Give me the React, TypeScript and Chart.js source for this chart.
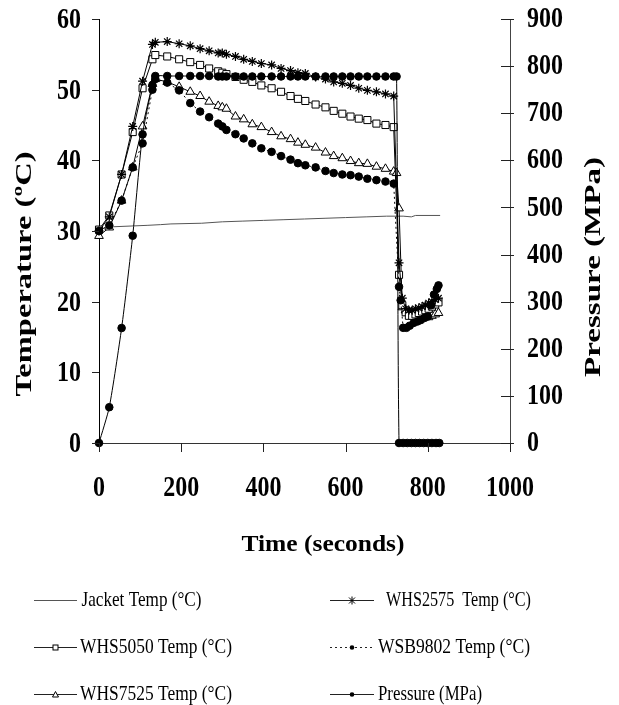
import React, { useEffect, useRef } from "react";
import { Chart, registerables } from "chart.js";

Chart.register(...registerables);

// ---------------- data ----------------
const TIME_MAIN = [0, 25, 55, 82, 106, 130, 137, 166, 195, 222, 246, 268, 290, 300, 310, 332, 352, 373, 395, 420, 443, 466, 484, 502, 527, 551, 571, 592, 612, 632, 653, 675, 697, 717];

const WHS2575_MAIN = [30.0, 32.0, 38.0, 44.8, 51.2, 56.4, 56.7, 56.8, 56.5, 56.2, 55.8, 55.5, 55.2, 55.2, 55.0, 54.7, 54.3, 54.0, 53.7, 53.5, 53.0, 52.7, 52.4, 52.3, 51.8, 51.5, 51.1, 50.9, 50.6, 50.2, 49.9, 49.7, 49.4, 49.1];
const WHS5050_MAIN = [30.2, 32.2, 38.0, 44.0, 50.2, 54.3, 54.9, 54.7, 54.3, 53.9, 53.5, 53.0, 52.6, 52.4, 52.2, 51.8, 51.4, 51.1, 50.6, 50.2, 49.7, 49.1, 48.7, 48.4, 47.9, 47.5, 47.0, 46.6, 46.2, 45.9, 45.7, 45.2, 45.0, 44.7];
const WHS7525_MAIN = [29.3, 30.5, 34.3, 39.0, 44.8, 50.8, 51.5, 51.1, 50.4, 49.7, 49.1, 48.3, 47.7, 47.5, 47.3, 46.2, 45.8, 45.1, 44.7, 44.0, 43.4, 43.0, 42.5, 42.2, 41.8, 41.1, 40.6, 40.3, 39.9, 39.6, 39.5, 39.1, 38.8, 38.4];
const WSB9802_MAIN = [30.0, 30.8, 34.3, 39.0, 42.4, 50.0, 51.5, 51.0, 49.9, 48.1, 46.9, 46.1, 45.2, 44.8, 44.3, 43.7, 43.1, 42.4, 41.7, 41.2, 40.6, 40.1, 39.6, 39.3, 39.0, 38.5, 38.2, 38.0, 37.9, 37.7, 37.4, 37.2, 37.0, 36.7];
const PRESSURE_MAIN = [0, 76, 244, 440, 655, 760, 779, 779, 779, 779, 779, 779, 778, 778, 778, 778, 778, 778, 778, 778, 778, 778, 778, 778, 778, 778, 778, 778, 778, 778, 778, 778, 778, 778];

const TIME_POST_A = [730, 738, 746, 754, 762, 770, 778, 786, 794, 802, 810, 818, 826];
const WHS2575_POST = [25.5, 20.5, 19.0, 18.8, 18.8, 19.0, 19.1, 19.3, 19.5, 19.8, 20.0, 20.3, 20.5];
const WHS5050_POST = [23.8, 19.5, 18.5, 18.0, 18.0, 18.2, 18.4, 18.6, 18.8, 19.0, 19.3, 19.6, 19.9];

const TIME_POST_7525 = [724, 730, 738, 746, 754, 762, 770, 778, 786, 794, 802, 810, 818, 826];
const WHS7525_POST = [38.2, 33.2, 19.2, 18.8, 18.5, 18.3, 18.2, 18.0, 17.9, 17.8, 17.8, 18.0, 18.2, 18.4];

const TIME_POST_9802 = [730, 734, 740, 748, 756, 766, 775, 783, 792, 800, 808, 815, 822, 826];
const WSB9802_POST = [22.1, 20.2, 16.3, 16.3, 16.6, 17.0, 17.2, 17.4, 17.7, 17.9, 19.5, 21.0, 21.8, 22.3];

const TIME_POST_PRESSURE = [724, 730, 740, 750, 760, 770, 780, 790, 800, 810, 820, 828];
const PRESSURE_POST = [778, 0, 0, 0, 0, 0, 0, 0, 0, 0, 0, 0];

const JACKET_TIME = [0, 15, 35, 117, 150, 175, 250, 300, 350, 400, 450, 500, 550, 600, 650, 700, 740, 760, 770, 830];
const JACKET = [30.1, 30.5, 30.6, 30.8, 30.9, 31.0, 31.1, 31.3, 31.4, 31.5, 31.6, 31.7, 31.8, 31.9, 32.0, 32.1, 32.1, 32.0, 32.2, 32.2];

const TEMP_TICKS = [0, 10, 20, 30, 40, 50, 60];
const PRESSURE_TICKS = [0, 100, 200, 300, 400, 500, 600, 700, 800, 900];
const TIME_TICKS = [0, 200, 400, 600, 800, 1000];

const LABEL_JACKET = "Jacket Temp (°C)";
const LABEL_2575 = "WHS2575  Temp (°C)";
const LABEL_5050 = "WHS5050 Temp (°C)";
const LABEL_9802 = "WSB9802 Temp (°C)";
const LABEL_7525 = "WHS7525 Temp (°C)";
const LABEL_PRESSURE = "Pressure (MPa)";

const TITLE_X = "Time (seconds)";
const TITLE_Y = "Temperature (ºC)";
const TITLE_Y2 = "Pressure (MPa)";

// ---------------- helpers ----------------
const pts = (t: number[], v: number[]) => t.map((x, i) => ({ x, y: v[i] }));

const SERIF = '"Liberation Serif", "Times New Roman", serif';

function drawText(
  ctx: CanvasRenderingContext2D,
  text: string,
  x: number,
  y: number,
  o: { font: string; align?: CanvasTextAlign; baseline?: CanvasTextBaseline; rotate?: number; length?: number; along?: number; across?: number }
) {
  ctx.save();
  ctx.font = o.font;
  ctx.textAlign = o.align || "center";
  ctx.textBaseline = o.baseline || "middle";
  let along = o.along || 1;
  if (o.length) along = o.length / ctx.measureText(text).width;
  ctx.translate(x, y);
  if (o.rotate) ctx.rotate(o.rotate);
  ctx.scale(along, o.across || 1);
  ctx.fillStyle = "#000";
  ctx.fillText(text, 0, 0);
  ctx.restore();
}

function marker(ctx: CanvasRenderingContext2D, kind: string, x: number, y: number) {
  ctx.save();
  ctx.strokeStyle = "#000";
  ctx.fillStyle = "#fff";
  ctx.lineWidth = 1;
  if (kind === "square") {
    ctx.fillRect(x - 2.5, y - 2.5, 5, 5);
    ctx.strokeRect(x - 2.5, y - 2.5, 5, 5);
  } else if (kind === "triangle") {
    ctx.beginPath();
    ctx.moveTo(x, y - 3);
    ctx.lineTo(x + 3, y + 2.5);
    ctx.lineTo(x - 3, y + 2.5);
    ctx.closePath();
    ctx.fill();
    ctx.stroke();
  } else if (kind === "star") {
    ctx.beginPath();
    ctx.moveTo(x, y - 4); ctx.lineTo(x, y + 4);
    ctx.moveTo(x - 3, y - 3); ctx.lineTo(x + 3, y + 3);
    ctx.moveTo(x + 3, y - 3); ctx.lineTo(x - 3, y + 3);
    ctx.stroke();
  } else if (kind === "dot") {
    ctx.fillStyle = "#000";
    ctx.beginPath();
    ctx.arc(x, y, 2.3, 0, Math.PI * 2);
    ctx.fill();
  }
  ctx.restore();
}

const LEGEND_ROWS = [600, 647, 694];

const decorPlugin = {
  id: "decor",
  afterDraw(chart: any) {
    const ctx: CanvasRenderingContext2D = chart.ctx;
    const xs = chart.scales.x;
    const ys = chart.scales.y;
    const y2 = chart.scales.y2;
    const area = chart.chartArea;
    ctx.save();
    ctx.strokeStyle = "#222";
    ctx.lineWidth = 1;
    // tick marks
    ctx.beginPath();
    TEMP_TICKS.forEach((v) => {
      const py = Math.round(ys.getPixelForValue(v)) + 0.5;
      ctx.moveTo(area.left - 7, py);
      ctx.lineTo(area.left, py);
    });
    PRESSURE_TICKS.forEach((v) => {
      const py = Math.round(y2.getPixelForValue(v)) + 0.5;
      ctx.moveTo(area.right - 9, py);
      ctx.lineTo(area.right + 4, py);
    });
    TIME_TICKS.forEach((v) => {
      const px = Math.round(xs.getPixelForValue(v)) + 0.5;
      ctx.moveTo(px, area.bottom);
      ctx.lineTo(px, area.bottom + 9);
    });
    ctx.stroke();
    ctx.restore();

    const tickFont = `bold 24px ${SERIF}`;
    TEMP_TICKS.forEach((v) =>
      drawText(ctx, String(v), 81, ys.getPixelForValue(v) + 1.5, { font: tickFont, align: "right", across: 1.22 })
    );
    PRESSURE_TICKS.forEach((v) =>
      drawText(ctx, String(v), 527, y2.getPixelForValue(v) + 0.5, { font: tickFont, align: "left", across: 1.22 })
    );
    TIME_TICKS.forEach((v) =>
      drawText(ctx, String(v), xs.getPixelForValue(v), 488, { font: tickFont, align: "center", across: 1.22 })
    );

    // axis titles
    drawText(ctx, TITLE_X, 323, 545, { font: `bold 24px ${SERIF}`, length: 163 });
    drawText(ctx, TITLE_Y, 25, 274, { font: `bold 23px ${SERIF}`, rotate: -Math.PI / 2, length: 245 });
    drawText(ctx, TITLE_Y2, 594, 267, { font: `bold 23px ${SERIF}`, rotate: -Math.PI / 2, length: 220 });

    // legend
    const legendFont = `21px ${SERIF}`;
    const entries = [
      { col: 0, row: 0, label: LABEL_JACKET, mk: "", dash: false, color: "#555", len: 120, tx: 81.5 },
      { col: 0, row: 1, label: LABEL_5050, mk: "square", dash: false, color: "#222", len: 152, tx: 80 },
      { col: 0, row: 2, label: LABEL_7525, mk: "triangle", dash: false, color: "#222", len: 152, tx: 80 },
      { col: 1, row: 0, label: LABEL_2575, mk: "star", dash: false, color: "#222", len: 145, tx: 386 },
      { col: 1, row: 1, label: LABEL_9802, mk: "dot", dash: true, color: "#222", len: 152, tx: 378 },
      { col: 1, row: 2, label: LABEL_PRESSURE, mk: "dot", dash: false, color: "#222", len: 104, tx: 378 },
    ];
    entries.forEach((e) => {
      const y = Math.round(LEGEND_ROWS[e.row]) + 0.5;
      const x0 = e.col === 0 ? 34 : 330;
      const x1 = e.col === 0 ? 77 : 374;
      ctx.save();
      ctx.strokeStyle = e.color;
      ctx.lineWidth = 1;
      if (e.dash) ctx.setLineDash([2, 3]);
      ctx.beginPath();
      ctx.moveTo(x0, y);
      ctx.lineTo(x1, y);
      ctx.stroke();
      ctx.restore();
      if (e.mk) marker(ctx, e.mk, (x0 + x1) / 2, y);
      drawText(ctx, e.label, e.tx, LEGEND_ROWS[e.row], { font: legendFont, align: "left", length: e.len });
    });
  },
};

export default function App() {
  const ref = useRef<HTMLCanvasElement | null>(null);
  useEffect(() => {
    if (!ref.current) return;
    const common = { borderWidth: 1, clip: false as const, tension: 0 };
    const chart = new Chart(ref.current, {
      type: "line",
      data: {
        datasets: [
          {
            ...common,
            label: LABEL_PRESSURE,
            yAxisID: "y2",
            data: pts(TIME_MAIN.concat(TIME_POST_PRESSURE), PRESSURE_MAIN.concat(PRESSURE_POST)),
            borderColor: "#000",
            pointStyle: "circle",
            pointRadius: 3.8,
            pointBackgroundColor: "#000",
            pointBorderColor: "#000",
            tension: 0.2,
          },
          {
            ...common,
            label: LABEL_9802,
            yAxisID: "y",
            data: pts(TIME_MAIN.concat(TIME_POST_9802), WSB9802_MAIN.concat(WSB9802_POST)),
            borderColor: "#000",
            borderDash: [2, 3],
            pointStyle: "circle",
            pointRadius: 3.8,
            pointBackgroundColor: "#000",
            pointBorderColor: "#000",
          },
          {
            ...common,
            label: LABEL_2575,
            yAxisID: "y",
            data: pts(TIME_MAIN.concat(TIME_POST_A), WHS2575_MAIN.concat(WHS2575_POST)),
            borderColor: "#000",
            pointStyle: "star",
            pointRadius: 4.5,
            pointBorderWidth: 1.2,
            pointBackgroundColor: "#000",
            pointBorderColor: "#000",
          },
          {
            ...common,
            label: LABEL_5050,
            yAxisID: "y",
            data: pts(TIME_MAIN.concat(TIME_POST_A), WHS5050_MAIN.concat(WHS5050_POST)),
            borderColor: "#000",
            pointStyle: "rect",
            pointRadius: 5,
            pointBackgroundColor: "#fff",
            pointBorderColor: "#000",
          },
          {
            ...common,
            label: LABEL_7525,
            yAxisID: "y",
            data: pts(TIME_MAIN.concat(TIME_POST_7525), WHS7525_MAIN.concat(WHS7525_POST)),
            borderColor: "#000",
            pointStyle: "triangle",
            pointRadius: 5,
            pointBackgroundColor: "#fff",
            pointBorderColor: "#000",
          },
          {
            ...common,
            label: LABEL_JACKET,
            yAxisID: "y",
            data: pts(JACKET_TIME, JACKET),
            borderColor: "#555",
            pointRadius: 0,
          },
        ],
      },
      options: {
        animation: false,
        responsive: false,
        layout: { padding: { top: 19, left: 0, right: 0, bottom: 0 } },
        plugins: { legend: { display: false }, tooltip: { enabled: false } },
        scales: {
          x: {
            type: "linear",
            min: 0,
            max: 1000,
            ticks: { display: false, stepSize: 200 },
            grid: { display: false },
            border: { color: "#333" },
            afterFit: (s: any) => { s.height = 262; },
          },
          y: {
            type: "linear",
            position: "left",
            min: 0,
            max: 60,
            ticks: { display: false, stepSize: 10 },
            grid: { display: false },
            border: { color: "#000" },
            afterFit: (s: any) => { s.width = 99; },
          },
          y2: {
            type: "linear",
            position: "right",
            min: 0,
            max: 900,
            ticks: { display: false, stepSize: 100 },
            grid: { display: false },
            border: { color: "#444" },
            afterFit: (s: any) => { s.width = 109; },
          },
        },
      },
      plugins: [decorPlugin],
    });
    return () => chart.destroy();
  }, []);

  return (
    <div style={{ position: "fixed", left: 0, top: 0, width: 619, height: 705, background: "#fff" }}>
      <canvas ref={ref} width={619} height={705} style={{ display: "block" }} />
    </div>
  );
}
